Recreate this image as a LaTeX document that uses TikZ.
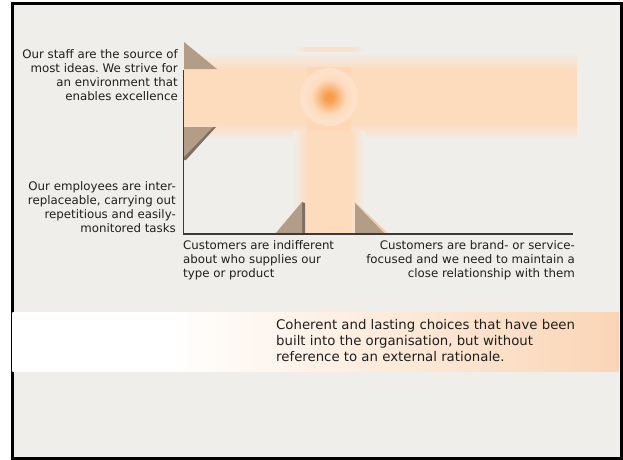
\documentclass[tikz,border=0pt]{standalone}
\usepackage{fontspec}
\setmainfont{DejaVu Sans}
\frenchspacing
\usetikzlibrary{shadings}
\definecolor{bgc}{HTML}{F0EEEB}
\definecolor{peach}{HTML}{FDDBBD}
\definecolor{ringc}{HTML}{FDE1C9}
\definecolor{glowc}{HTML}{F99C4C}
\definecolor{tan}{HTML}{B39D87}
\definecolor{tandark}{HTML}{7F6F60}
\definecolor{axisc}{HTML}{3A3A3A}
\definecolor{bannerp}{HTML}{FAD5B5}
\pgfdeclareradialshading{glow}{\pgfpoint{0bp}{0bp}}{color(0bp)=(glowc); color(3bp)=(glowc); color(15bp)=(peach); color(21bp)=(ringc); color(25bp)=(ringc); color(50bp)=(ringc)}
\pgfdeclarehorizontalshading{banshade}{100bp}{color(0bp)=(white); color(25bp)=(white); color(38bp)=(white); color(75bp)=(bannerp); color(100bp)=(bannerp)}
\tikzset{
  lbl/.style={inner sep=0pt, font=\fontsize{11.8}{14.2}\selectfont, text=black!88},
  bantext/.style={inner sep=0pt, font=\fontsize{13.3}{16}\selectfont, text=black!88, align=left},
  tri/.style={fill=tan},
  axisline/.style={draw=axisc, line width=1.6pt},
}
\begin{document}
\begin{tikzpicture}[x=1pt,y=-1pt]
\useasboundingbox (0,0) rectangle (623,459);
\fill[white] (0,0) rectangle (623,459);
% frame
\node[draw=black, line width=2.6pt, fill=bgc, minimum width=609pt, minimum height=455pt, inner sep=0pt, anchor=north west] (frame) at (11,2) {};
% column top piece
\shade[left color=bgc, right color=peach!70!bgc] (293,47) rectangle (308,67);
\fill[peach!70!bgc] (308,47) rectangle (350,67);
\shade[left color=peach!70!bgc, right color=bgc] (350,47) rectangle (365,67);
% horizontal band
\shade[top color=bgc, bottom color=peach] (184,52) rectangle (577,71);
\fill[peach] (184,71) rectangle (577,123);
\shade[top color=peach, bottom color=bgc] (184,123) rectangle (577,140);
% column lower piece with side fades
\shade[left color=bgc, right color=peach] (293,131) rectangle (308,234);
\fill[peach] (308,131) rectangle (350,234);
\shade[left color=peach, right color=bgc] (350,131) rectangle (365,234);
% crossing square and glow
\fill[peach!96!orange] (307,67) rectangle (351,131);
\shade[shading=glow] (329,97) circle[radius=29];
% triangles
\fill[peach] (184,69) rectangle (221,73);
\fill[tri] (184,42) -- (184,69) -- (217,69) -- cycle;
\fill[tandark] (184,127) -- (216,127) -- (186,160) -- (184,160) -- cycle;
\fill[tri] (184,127) -- (213,127) -- (184,157) -- cycle;
\fill[tandark] (302,202) -- (305,203) -- (305,234) -- (302,234) -- cycle;
\fill[tri] (275,234) -- (302,202) -- (302,234) -- cycle;
\fill[peach!80!tan] (355,202) -- (389,234) -- (384,234) -- (355,206) -- cycle;
\fill[tri] (355,203) -- (355,234) -- (385,234) -- cycle;
% axes
\coordinate (ytop) at (183.5,70);
\coordinate (orig) at (183.5,234);
\coordinate (xend) at (573,234);
\draw[axisline] (ytop) -- (orig) -- (xend);
% labels
\node[lbl, align=right, anchor=north east] (ytoplbl) at (178,49) {Our staff are the source of\\most ideas. We strive for\\an environment that\\enables excellence};
\node[lbl, align=right, anchor=north east] (ybotlbl) at (176,181) {Our employees are inter-\\replaceable, carrying out\\repetitious and easily-\\monitored tasks};
\node[lbl, align=left, anchor=north west] (xleftlbl) at (183,240) {Customers are indifferent\\about who supplies our\\type or product};
\node[lbl, align=right, anchor=north east] (xrightlbl) at (575,240) {Customers are brand- or service-\\focused and we need to maintain a\\close relationship with them};
% banner
\shade[shading=banshade] (12.3,312) rectangle (618.7,371);
\node[bantext, anchor=north west] (banner) at (276,319) {Coherent and lasting choices that have been\\built into the organisation, but without\\reference to an external rationale.};
\end{tikzpicture}
\end{document}
